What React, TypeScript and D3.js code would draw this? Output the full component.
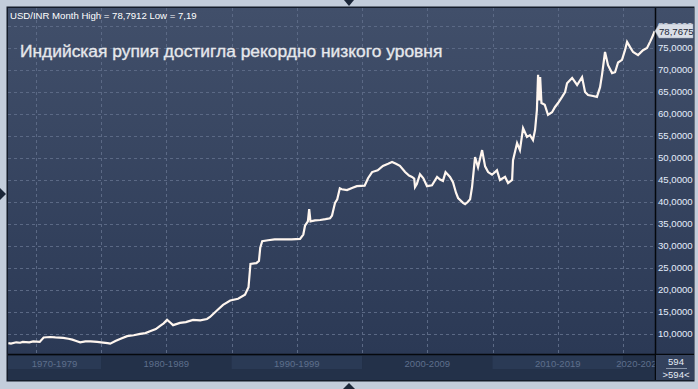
import React from "react";
import * as d3 from "d3";

const years: number[] = [
  1972.9, 1973.1, 1973.5, 1973.8, 1974.0, 1974.5, 1974.8, 1975.3, 1975.6, 1976.1,
  1976.5, 1977.1, 1977.5, 1977.8, 1978.1, 1978.4, 1978.8, 1979.2, 1979.7, 1980.0,
  1980.5, 1980.7, 1981.1, 1981.5, 1982.0, 1982.5, 1983.0, 1983.4, 1983.75, 1984.2,
  1984.5, 1984.8, 1985.06, 1985.3, 1985.52, 1986.05, 1986.5, 1987.05, 1987.6, 1988.12,
  1988.35, 1988.9, 1989.35, 1989.9, 1990.5, 1991.03, 1991.3, 1991.45, 1991.9, 1992.1,
  1992.2, 1992.35, 1992.8, 1993.3, 1994.0, 1994.6, 1995.25, 1995.5, 1995.63, 1995.85,
  1995.95, 1996.05, 1996.4, 1996.8, 1997.2, 1997.55, 1997.7, 1997.93, 1998.1, 1998.3,
  1998.45, 1998.85, 1999.23, 1999.6, 2000.2, 2000.46, 2000.77, 2001.2, 2001.6, 2002.0,
  2002.3, 2002.6, 2002.9, 2003.3, 2003.6, 2003.83, 2004.0, 2004.06, 2004.2, 2004.44,
  2004.7, 2004.98, 2005.36, 2005.75, 2005.98, 2006.2, 2006.4, 2006.74, 2006.97, 2007.2,
  2007.36, 2007.74, 2007.9, 2008.1, 2008.28, 2008.43, 2008.66, 2008.89, 2009.2, 2009.43,
  2009.66, 2009.96, 2010.34, 2010.57, 2010.96, 2011.19, 2011.5, 2011.57, 2011.88, 2012.1,
  2012.34, 2012.64, 2012.87, 2013.1, 2013.26, 2013.4, 2013.49, 2013.57, 2013.65, 2013.75,
  2014.0, 2014.25, 2014.56, 2014.79, 2015.02, 2015.33, 2015.56, 2015.71, 2016.1, 2016.48,
  2016.86, 2017.09, 2017.32, 2017.7, 2018.0, 2018.24, 2018.39, 2018.62, 2018.85, 2019.16,
  2019.39, 2019.62, 2019.92, 2020.15, 2020.31, 2020.54, 2020.77, 2021.15, 2021.53, 2021.84,
  2022.07, 2022.3, 2022.42,
];

const rates: number[] = [
  7.8, 7.7, 8.0, 7.9, 8.1, 8.0, 8.2, 8.1, 9.1, 9.2,
  9.1, 9.0, 8.8, 8.6, 8.3, 8.0, 8.2, 8.2, 8.1, 8.0,
  7.8, 7.7, 8.3, 8.8, 9.4, 9.6, 9.9, 10.1, 10.5, 11.0,
  11.7, 12.3, 13.1, 12.5, 11.9, 12.4, 12.6, 13.1, 13.0, 13.3,
  13.75, 15.3, 16.5, 17.5, 17.9, 18.8, 20.5, 25.8, 26.0, 26.5,
  29.5, 31.0, 31.2, 31.4, 31.4, 31.4, 31.5, 32.5, 34.5, 35.5,
  38.3, 35.5, 35.7, 35.8, 36.0, 36.2, 36.8, 39.7, 40.5, 43.0,
  42.8, 42.6, 43.1, 43.5, 43.6, 45.3, 46.7, 47.1, 48.1, 48.6,
  49.0, 48.6, 48.1, 46.7, 45.9, 45.6, 45.2, 43.3, 44.0, 46.2,
  45.3, 43.5, 43.7, 45.6, 45.0, 44.7, 46.7, 45.6, 44.4, 42.0,
  40.8, 39.7, 39.4, 39.9, 40.5, 43.3, 50.1, 47.8, 51.7, 48.0,
  46.7, 46.1, 47.1, 44.9, 45.6, 44.2, 44.9, 49.4, 53.3, 51.7,
  56.7, 54.7, 55.1, 54.0, 56.3, 60.8, 68.8, 63.0, 68.3, 62.4,
  62.0, 59.7, 60.3, 61.5, 62.4, 63.8, 64.9, 66.9, 68.1, 66.5,
  68.3, 64.9, 64.2, 64.0, 63.8, 66.0, 68.8, 74.0, 71.0, 69.2,
  69.4, 71.6, 72.2, 74.4, 76.3, 75.1, 74.0, 73.3, 74.4, 74.9,
  76.3, 77.8, 78.77,
];

const yTicks: number[] = [10, 15, 20, 25, 30, 35, 40, 45, 50, 55, 60, 65, 70, 75, 80];
const gridYears: number[] = [1975, 1980, 1985, 1990, 1995, 2000, 2005, 2010, 2015, 2020];
const decadeStarts: number[] = [1970, 1980, 1990, 2000, 2010, 2020];
const decadeLabels: string[] = ["1970-1979", "1980-1989", "1990-1999", "2000-2009", "2010-2019", "2020-2029"];

const headerText = "USD/INR Month High = 78,7912 Low = 7,19";
const titleText = "Индийская рупия достигла рекордно низкого уровня";
const lastValue = 78.7675;
const barCount = "594";

const W = 698;
const H = 389;
const PL = 8;
const PT = 8;
const PR = 655;
const PB = 354;
const AXR = 694;
const BOT = 380;
const FONT = "'Liberation Sans', Arial, sans-serif";

export default function App() {
  const x = d3.scaleLinear().domain([1972.87, 2022.45]).range([PL, PR]);
  const y = d3.scaleLinear().domain([5.34, 84.0]).range([PB, PT]);
  const pts = years.map((yr, i) => [yr, rates[i]] as [number, number]);
  const line = d3
    .line<[number, number]>()
    .x((d) => x(d[0]))
    .y((d) => y(d[1]));
  const fmt = (v: number) => v.toFixed(4).replace(".", ",");
  const tagY = y(lastValue);

  return (
    <svg
      width={W}
      height={H}
      style={{ position: "absolute", left: 0, top: 0, display: "block" }}
      fontFamily={FONT}
    >
      <defs>
        <linearGradient id="bg" x1="0" y1="0" x2="0" y2="1">
          <stop offset="0" stopColor="#414f6a" />
          <stop offset="1" stopColor="#2b3955" />
        </linearGradient>
        <clipPath id="plotclip">
          <rect x={PL} y={PT} width={PR - PL} height={PB - PT} />
        </clipPath>
        <clipPath id="botclip">
          <rect x={PL} y={PB} width={PR - PL} height={BOT - PB} />
        </clipPath>
      </defs>
      <rect x={0} y={0} width={W} height={H} fill="#c3cddb" />
      {/* nav arrows */}
      <path d="M344,0 L354,0 L349,6 Z" fill="#1b2638" />
      <path d="M0,188 L6,194 L0,200 Z" fill="#1b2638" />
      <path d="M343,389 L355,389 L349,383 Z" fill="#1b2638" />
      {/* frame */}
      <rect x={6.5} y={6.5} width={AXR - 6} height={BOT - 6 + 1} fill="#141c2a" />
      <rect x={PL} y={PT} width={AXR - PL} height={PB - PT} fill="url(#bg)" />
      {/* grid */}
      {yTicks.map((t) => (
        <line
          key={"gy" + t}
          x1={PL}
          x2={PR}
          y1={Math.round(y(t)) + 0.5}
          y2={Math.round(y(t)) + 0.5}
          stroke="#5b6985"
          strokeDasharray="3,3"
        />
      ))}
      {gridYears.map((g) => (
        <line
          key={"gx" + g}
          x1={Math.round(x(g)) + 0.5}
          x2={Math.round(x(g)) + 0.5}
          y1={PT}
          y2={PB}
          stroke="#5b6985"
          strokeDasharray="3,3"
        />
      ))}
      {/* header */}
      <text x={10} y={18.5} fill="#ffffff" fontSize={9.6}>
        {headerText}
      </text>
      <text
        x={20}
        y={57}
        fill="#e6e8ec"
        fontSize={17.4}
        stroke="#e6e8ec"
        strokeWidth={0.35}
      >
        {titleText}
      </text>
      {/* series */}
      <g clipPath="url(#plotclip)">
        <path
          d={line(pts) || ""}
          fill="none"
          stroke="#fff6ef"
          strokeWidth={2.2}
          strokeLinejoin="miter"
        />
      </g>
      {/* bottom axis */}
      <rect x={PL} y={PB} width={AXR - PL} height={BOT - PB} fill="#233149" />
      <g clipPath="url(#botclip)">
        {decadeStarts.map((d, i) => {
          const x0 = Math.max(PL, x(d));
          const x1 = Math.min(PR, x(d + 10));
          return (
            <g key={"dec" + d}>
              <rect
                x={x0}
                y={PB + 2}
                width={x1 - x0}
                height={13}
                fill={i % 2 === 0 ? "#2a3a55" : "#233149"}
              />
              <text
                x={(x0 + x1) / 2}
                y={PB + 12.5}
                textAnchor="middle"
                fill="#5e6f8c"
                fontSize={9.5}
              >
                {decadeLabels[i]}
              </text>
            </g>
          );
        })}
      </g>
      {/* separators */}
      <line x1={PR + 0.5} x2={PR + 0.5} y1={PT} y2={BOT} stroke="#05080d" strokeWidth={1.5} />
      <line x1={PL} x2={AXR} y1={PB + 0.5} y2={PB + 0.5} stroke="#05080d" strokeWidth={1.5} />
      {/* right axis labels */}
      {yTicks.map((t) => (
        <text
          key={"yl" + t}
          x={658}
          y={y(t) + 3.5}
          fill="#e4edfb"
          fontSize={9.6}
        >
          {fmt(t)}
        </text>
      ))}
      {/* current value tag */}
      <path
        d={`M${PR},${tagY} L${PR + 4},${tagY - 7} L${AXR - 1},${tagY - 7} L${AXR - 1},${tagY + 7} L${PR + 4},${tagY + 7} Z`}
        fill="#d9dee7"
        stroke="#9aa4b4"
        strokeWidth={0.5}
      />
      <text x={659} y={tagY + 3.5} fill="#1c2636" fontSize={9.6}>
        {fmt(lastValue)}
      </text>
      {/* bar count box */}
      <rect x={PR + 1} y={PB + 1} width={AXR - PR - 1} height={BOT - PB - 1} fill="#34425d" />
      <text x={676} y={PB + 11} textAnchor="middle" fill="#e4ebf6" fontSize={9.5}>
        {barCount}
      </text>
      <line x1={666} x2={687} y1={PB + 14.5} y2={PB + 14.5} stroke="#8a96aa" />
      <text x={676} y={PB + 23.5} textAnchor="middle" fill="#e4ebf6" fontSize={9.5}>
        {">" + barCount + "<"}
      </text>
    </svg>
  );
}
